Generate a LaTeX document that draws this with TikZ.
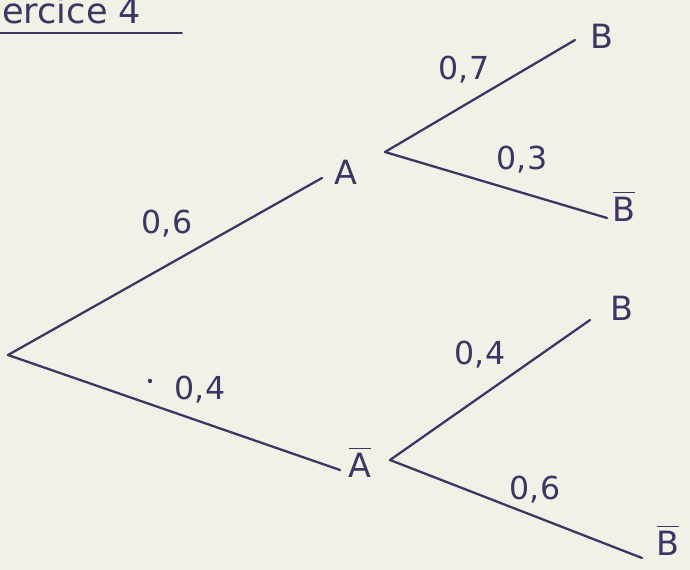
\documentclass[tikz,border=0pt]{standalone}
\usepackage{amsmath}
\usepackage{fontspec}
\setmainfont{DejaVu Sans}
\usepackage{xcolor}
\usetikzlibrary{calc}
\definecolor{ink}{HTML}{3B3762}
\definecolor{paper}{HTML}{F3F0E8}

\begin{document}
\begin{tikzpicture}[
  x=0.02cm, y=-0.02cm,
  % Global text styling
  every node/.style={text=ink, font=\fontsize{19}{22}\selectfont, inner sep=2pt},
  % Specific styles
  event/.style={anchor=center},
  prob/.style={anchor=center, font=\fontsize{18}{22}\selectfont},
  branch/.style={draw=ink, line width=1.3pt, line cap=round}
]

% Paper and frame
\fill[paper] (0,0) rectangle (690,570);
\useasboundingbox (0,0) rectangle (690,570);

% Heading
\node[anchor=base west, inner sep=0pt, font=\fontsize{20}{22}\selectfont] (title) at (2,24) {ercice 4};
\draw[branch, line width=1.1pt] (0,33) -- (182,33);

% Events
\coordinate (root) at (8,355);
\node[event] (A) at (346,172) {A};
\node[event] (nA) at (360,462) {$\overline{\text{A}}$};
\node[event] (AB) at (602,36) {B};
\node[event] (AnB) at (624,206) {$\overline{\text{B}}$};
\node[event] (nAB) at (622,308) {B};
\node[event] (nAnB) at (668,540) {$\overline{\text{B}}$};

% Where the branches meet the events
\coordinate (A-in) at ($(A)+(-24,6)$);
\coordinate (A-out) at ($(A)+(39,-20)$);
\coordinate (nA-in) at ($(nA)+(-20,8)$);
\coordinate (nA-out) at ($(nA)+(30,-2)$);
\coordinate (AB-in) at ($(AB)+(-27,4)$);
\coordinate (AnB-in) at ($(AnB)+(-17,12)$);
\coordinate (nAB-in) at ($(nAB)+(-32,12)$);
\coordinate (nAnB-in) at ($(nAnB)+(-26,18)$);

% Branches
\draw[branch] (root) -- (A-in);
\draw[branch] (root) -- (nA-in);
\draw[branch] (A-out) -- (AB-in);
\draw[branch] (A-out) -- (AnB-in);
\draw[branch] (nA-out) -- (nAB-in);
\draw[branch] (nA-out) -- (nAnB-in);

% Probabilities
\node[prob] (p1) at (167,224) {0,6};
\node[prob] (p2) at (200,390) {0,4};
\fill[ink] (150,381) circle (2.2);
\node[prob] (p3) at (464,70) {0,7};
\node[prob] (p4) at (522,160) {0,3};
\node[prob] (p5) at (480,355) {0,4};
\node[prob] (p6) at (535,490) {0,6};

\end{tikzpicture}
\end{document}
